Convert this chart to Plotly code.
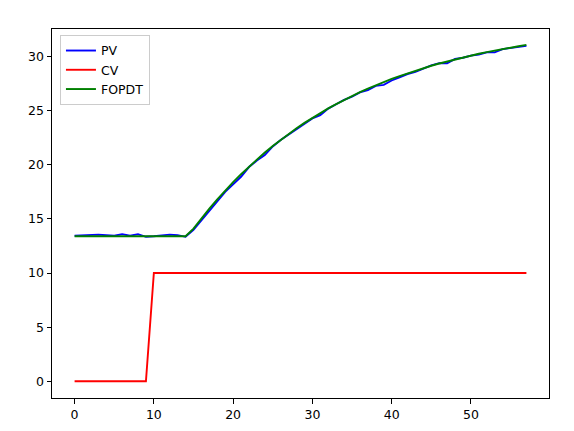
import plotly.graph_objects as go

t = list(range(58))

pv = [13.45, 13.5, 13.55, 13.55, 13.5, 13.45, 13.6, 13.45, 13.6, 13.35,
      13.4, 13.5, 13.55, 13.5, 13.35, 14.0, 14.9, 15.7, 16.6, 17.5,
      18.2, 18.9, 19.8, 20.4, 20.9, 21.7, 22.3, 22.8, 23.3, 23.8,
      24.3, 24.6, 25.2, 25.6, 26.0, 26.3, 26.7, 26.9, 27.3, 27.4,
      27.8, 28.1, 28.4, 28.6, 28.9, 29.2, 29.4, 29.4, 29.8, 29.9,
      30.1, 30.2, 30.4, 30.4, 30.7, 30.8, 30.9, 31.0]

cv = [0] * 10 + [10] * 48

fopdt = [13.4] * 15 + [
    14.10, 15.05, 15.95, 16.81, 17.63, 18.40, 19.14, 19.84, 20.51, 21.15,
    21.75, 22.32, 22.87, 23.39, 23.88, 24.35, 24.80, 25.22, 25.62, 26.00,
    26.37, 26.72, 27.05, 27.36, 27.66, 27.94, 28.21, 28.46, 28.71, 28.94,
    29.16, 29.37, 29.56, 29.75, 29.93, 30.10, 30.27, 30.42, 30.57, 30.71,
    30.84, 30.97, 31.09]

x_ticks = [0, 10, 20, 30, 40, 50]
y_ticks = [0, 5, 10, 15, 20, 25, 30]

fig = go.Figure()
fig.add_trace(go.Scatter(x=t, y=pv, mode="lines", name="PV",
                         line=dict(color="blue", width=1.9)))
fig.add_trace(go.Scatter(x=t, y=cv, mode="lines", name="CV",
                         line=dict(color="red", width=1.9)))
fig.add_trace(go.Scatter(x=t, y=fopdt, mode="lines", name="FOPDT",
                         line=dict(color="green", width=1.9)))

axis_common = dict(showgrid=False, zeroline=False, showline=True, mirror=True,
                   linecolor="black", linewidth=1, ticks="outside", ticklen=4.5,
                   tickcolor="black", tickwidth=1, automargin=False,
                   tickfont=dict(family="DejaVu Sans", size=12.5, color="black"))

fig.update_layout(
    width=566, height=423,
    margin=dict(l=44, r=25, t=21, b=33),
    paper_bgcolor="white", plot_bgcolor="white",
    xaxis=dict(range=[-2.85, 59.85], tickvals=x_ticks, **axis_common),
    yaxis=dict(range=[-1.55, 32.56], tickvals=y_ticks, **axis_common),
    legend=dict(x=0.016, y=0.984, xanchor="left", yanchor="top",
                bgcolor="rgba(255,255,255,0.8)", bordercolor="#cccccc", borderwidth=1,
                font=dict(family="DejaVu Sans", size=12.5, color="black"),
                itemwidth=30, tracegroupgap=0),
    showlegend=True,
)

fig.write_html("out.html")
